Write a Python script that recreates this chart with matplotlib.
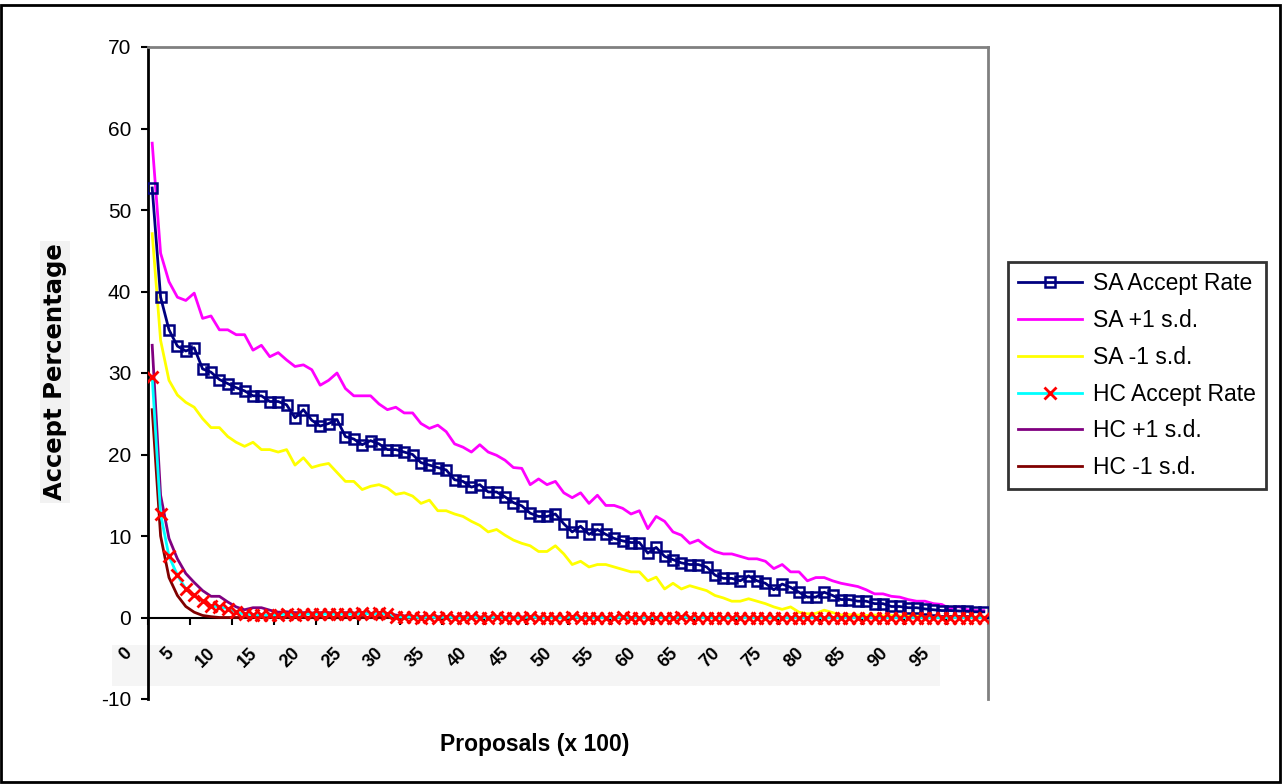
import matplotlib
matplotlib.use('Agg')
import matplotlib.pyplot as plt
import matplotlib.transforms as mtransforms
from matplotlib.patches import Rectangle
import numpy as np

plt.rcParams['font.family'] = ['Liberation Sans', 'DejaVu Sans']
plt.rcParams['axes.unicode_minus'] = False

# values, one per 100 proposals
sa_rate = [52.7, 39.3, 35.3, 33.3, 32.7, 33.1, 30.5, 30.1, 29.2, 28.7,
           28.2, 27.8, 27.2, 27.2, 26.5, 26.5, 26.1, 24.5, 25.5, 24.2,
           23.5, 23.8, 24.3, 22.2, 21.9, 21.2, 21.7, 21.3, 20.6, 20.6,
           20.3, 20.0, 19.0, 18.7, 18.4, 18.1, 16.9, 16.7, 16.0, 16.3,
           15.4, 15.4, 14.8, 14.1, 13.7, 12.8, 12.4, 12.4, 12.7, 11.5,
           10.5, 11.2, 10.2, 10.8, 10.2, 9.7, 9.4, 9.2, 9.2, 7.9,
           8.6, 7.5, 7.1, 6.7, 6.5, 6.5, 6.2, 5.2, 4.8, 4.8,
           4.5, 5.1, 4.5, 4.2, 3.4, 4.1, 3.7, 3.1, 2.5, 2.5,
           3.1, 2.7, 2.2, 2.2, 2.0, 2.0, 1.7, 1.7, 1.35, 1.35,
           1.2, 1.2, 1.05, 0.95, 0.85, 0.85, 0.8, 0.75, 0.7, 0.7]

sa_plus = [58.2, 44.7, 41.2, 39.3, 38.9, 39.8, 36.7, 37.0, 35.3, 35.3,
           34.7, 34.7, 32.8, 33.4, 32.0, 32.5, 31.6, 30.8, 31.0, 30.4,
           28.5, 29.1, 30.0, 28.1, 27.2, 27.2, 27.2, 26.2, 25.5, 25.8,
           25.1, 25.1, 23.8, 23.2, 23.6, 22.8, 21.3, 20.9, 20.3, 21.2,
           20.3, 19.9, 19.3, 18.4, 18.3, 16.3, 17.0, 16.3, 16.7, 15.3,
           14.7, 15.3, 14.0, 15.0, 13.75, 13.75, 13.4, 12.7, 13.1, 10.9,
           12.4, 11.8, 10.5, 10.1, 9.1, 9.5, 8.7, 8.1, 7.8, 7.8,
           7.5, 7.2, 7.2, 6.9, 6.0, 6.5, 5.6, 5.6, 4.5, 4.9,
           4.9, 4.5, 4.2, 4.0, 3.8, 3.4, 2.9, 2.9, 2.6, 2.5,
           2.2, 2.0, 2.0, 1.7, 1.6, 1.05, 1.35, 0.95, 0.85, 0.85]

sa_minus = [47.1, 34.0, 29.1, 27.3, 26.4, 25.8, 24.4, 23.3, 23.3, 22.2,
            21.5, 21.0, 21.5, 20.6, 20.6, 20.3, 20.6, 18.7, 19.6, 18.4,
            18.7, 18.9, 17.8, 16.7, 16.7, 15.7, 16.1, 16.3, 15.9, 15.1,
            15.3, 14.9, 14.0, 14.4, 13.1, 13.1, 12.7, 12.4, 11.8, 11.3,
            10.5, 10.8, 10.1, 9.5, 9.1, 8.8, 8.1, 8.1, 8.8, 7.8,
            6.5, 6.9, 6.2, 6.5, 6.5, 6.2, 5.9, 5.6, 5.6, 4.5,
            4.95, 3.5, 4.2, 3.5, 3.9, 3.6, 3.3, 2.7, 2.4, 2.0,
            2.0, 2.3, 2.0, 1.7, 1.3, 1.0, 1.3, 0.65, 0.45, 0.5,
            0.9, 0.6, 0.3, 0.35, 0.3, 0.25, 0.3, 0.2, 0.25, 0.2,
            0.2, 0.15, 0.2, 0.15, 0.1, 0.15, 0.1, 0.1, 0.05, 0.05]

hc_rate = [29.5, 12.7, 7.5, 5.2, 3.5, 2.7, 2.0, 1.4, 1.3, 1.1,
           0.65, 0.4, 0.35, 0.3, 0.3, 0.35, 0.4, 0.35, 0.4, 0.45,
           0.4, 0.45, 0.4, 0.45, 0.4, 0.5, 0.45, 0.5, 0.45, 0.1,
           0.05, 0.05, 0.0, 0.05, 0.0, 0.05, 0.0, 0.0, 0.05, 0.0,
           0.0, 0.05, 0.0, 0.0, 0.0, 0.05, 0.0, 0.0, 0.0, 0.0,
           0.05, 0.0, 0.0, 0.0, 0.0, 0.0, 0.05, 0.0, 0.0, 0.0,
           0.0, 0.0, 0.0, 0.05, 0.0, 0.0, 0.0, 0.0, 0.0, 0.0,
           0.0, 0.0, 0.0, 0.0, 0.0, 0.0, 0.0, 0.0, 0.0, 0.0,
           0.0, 0.0, 0.0, 0.0, 0.0, 0.0, 0.0, 0.0, 0.0, 0.0,
           0.0, 0.0, 0.0, 0.0, 0.0, 0.0, 0.0, 0.0, 0.0, 0.0]

hc_plus = [33.4, 15.0, 9.7, 7.2, 5.4, 4.3, 3.3, 2.6, 2.6, 1.9,
           1.3, 0.95, 1.2, 1.2, 0.9, 0.65, 0.7, 0.6, 0.6, 0.55,
           0.6, 0.6, 0.5, 0.6, 0.55, 0.6, 0.5, 0.6, 0.5, 0.3,
           0.2, 0.15, 0.1, 0.15, 0.1, 0.1, 0.05, 0.1, 0.1, 0.05,
           0.05, 0.1, 0.05, 0.05, 0.05, 0.1, 0.05, 0.0, 0.05, 0.0,
           0.1, 0.0, 0.0, 0.05, 0.0, 0.0, 0.1, 0.0, 0.0, 0.0,
           0.0, 0.0, 0.0, 0.1, 0.0, 0.0, 0.0, 0.0, 0.0, 0.0,
           0.0, 0.0, 0.0, 0.0, 0.0, 0.0, 0.0, 0.0, 0.0, 0.0,
           0.0, 0.0, 0.0, 0.0, 0.0, 0.0, 0.0, 0.0, 0.0, 0.0,
           0.0, 0.0, 0.0, 0.0, 0.0, 0.0, 0.0, 0.0, 0.0, 0.0]

hc_minus = [25.5, 10.0, 4.9, 2.7, 1.35, 0.65, 0.25, 0.1, 0.0, 0.0,
            0.0, 0.0, 0.0, 0.0, 0.0, 0.0, 0.0, 0.0, 0.0, 0.0,
            0.0, 0.0, 0.0, 0.0, 0.0, 0.0, 0.0, 0.0, 0.0, 0.0,
            0.0, 0.0, 0.0, 0.0, 0.0, 0.0, 0.0, 0.0, 0.0, 0.0,
            0.0, 0.0, 0.0, 0.0, 0.0, 0.0, 0.0, 0.0, 0.0, 0.0,
            0.0, 0.0, 0.0, 0.0, 0.0, 0.0, 0.0, 0.0, 0.0, 0.0,
            0.0, 0.0, 0.0, 0.0, 0.0, 0.0, 0.0, 0.0, 0.0, 0.0,
            0.0, 0.0, 0.0, 0.0, 0.0, 0.0, 0.0, 0.0, 0.0, 0.0,
            0.0, 0.0, 0.0, 0.0, 0.0, 0.0, 0.0, 0.0, 0.0, 0.0,
            0.0, 0.0, 0.0, 0.0, 0.0, 0.0, 0.0, 0.0, 0.0, 0.0]

series_names = ['SA Accept Rate', 'SA +1 s.d.', 'SA -1 s.d.',
                'HC Accept Rate', 'HC +1 s.d.', 'HC -1 s.d.']
x_tick_values = list(range(0, 100, 5))

x = np.arange(len(sa_rate)) + 0.5

W, H = 1283, 784
fig = plt.figure(figsize=(W / 100, H / 100), dpi=100)
ax = fig.add_axes([148 / W, 1 - 699 / H, 840 / W, 652 / H])

l_sap, = ax.plot(x, sa_plus, color='#FF00FF', lw=2, zorder=3)
l_sam, = ax.plot(x, sa_minus, color='#FFFF00', lw=2, zorder=3)
l_sa, = ax.plot(x, sa_rate, color='#000080', lw=2, marker='s', ms=6.5,
                mfc='none', mec='#000080', mew=1.8, zorder=4)
l_hcp, = ax.plot(x, hc_plus, color='#800080', lw=2, zorder=4)
l_hcm, = ax.plot(x, hc_minus, color='#800000', lw=2, zorder=4)
l_hc, = ax.plot(x, hc_rate, color='#00FFFF', lw=2, marker='x', ms=8,
                mec='#FF0000', mew=2, zorder=5)

ax.set_xlim(0, 100)
ax.set_ylim(-10, 70)
ax.set_yticks(range(-10, 71, 10))
ax.set_xticks(range(0, 101, 5))
ax.set_xticklabels([])

ax.spines['bottom'].set_position(('data', 0))
ax.spines['bottom'].set_linewidth(1.5)
ax.spines['left'].set_linewidth(2)
for side in ['top', 'right']:
    ax.spines[side].set_color('#808080')
    ax.spines[side].set_linewidth(2)

ax.tick_params(axis='y', direction='out', length=5, width=1.5, labelsize=15, pad=7)
ax.tick_params(axis='x', direction='out', length=5, width=1.5)

# grey band behind the slanted category labels
ax.add_patch(Rectangle((112 / W, 1 - 686 / H), 828 / W, 41 / H,
                       transform=fig.transFigure, facecolor='#f5f5f5',
                       edgecolor='none', clip_on=False, zorder=0.5))
shift = mtransforms.ScaledTranslation(-0.19, -0.33, fig.dpi_scale_trans)
for v in x_tick_values:
    ax.text(v, 0, str(v), transform=ax.transData + shift, rotation=45,
            ha='right', va='center', rotation_mode='anchor',
            fontsize=13, fontweight='bold')

fig.text(55 / W, 1 - 372 / H, 'Accept Percentage', rotation=90, fontsize=17.5,
         fontweight='bold', family='DejaVu Sans', ha='center', va='center',
         bbox=dict(facecolor='#f2f2f2', edgecolor='none', pad=2))
fig.text(535 / W, 1 - 745 / H, 'Proposals (x 100)', fontsize=16.5,
         fontweight='bold', ha='center', va='center')

leg = fig.legend([l_sa, l_sap, l_sam, l_hc, l_hcp, l_hcm], series_names,
                 loc='upper left', bbox_to_anchor=(1008 / W, 1 - 262 / H),
                 bbox_transform=fig.transFigure, borderaxespad=0,
                 fancybox=False, fontsize=16.5, handlelength=2.8,
                 handletextpad=0.45, labelspacing=0.6, borderpad=0.45,
                 numpoints=1)
leg.get_frame().set_edgecolor('black')
leg.get_frame().set_linewidth(2)

# outer chart border
fig.add_artist(Rectangle((0.001, 0.002), 0.997, 0.992, fill=False,
                         edgecolor='black', lw=2, transform=fig.transFigure))

fig.savefig('out.png', dpi=100)
